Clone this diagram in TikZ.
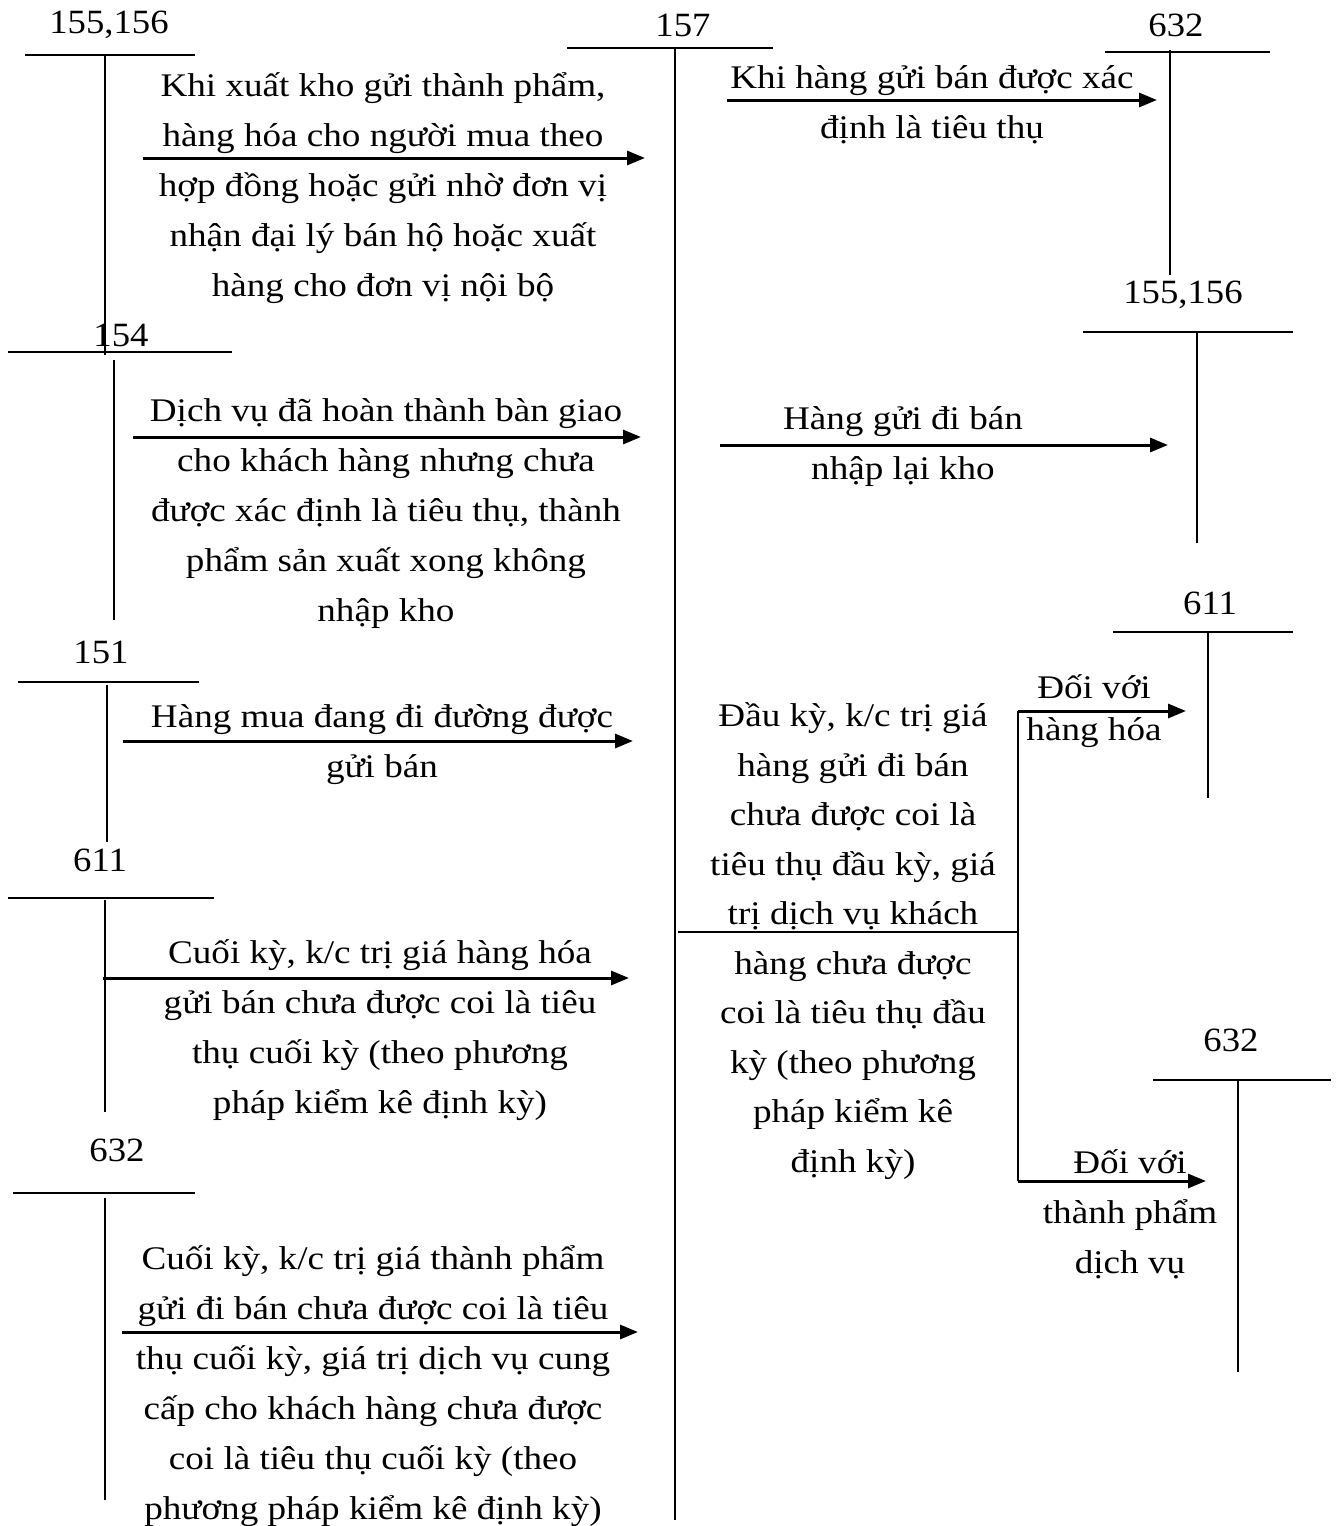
\documentclass[tikz,border=0pt]{standalone}
\usepackage{fontspec}
\setmainfont{Liberation Serif}[FakeStretch=1.125]
\newfontfamily\lblfont{Liberation Serif}[FakeStretch=1.08]
\usetikzlibrary{arrows.meta}
\begin{document}
\begin{tikzpicture}[x=1pt,y=-1pt,
  acct/.style={font=\lblfont\fontsize{34}{40}\selectfont, inner sep=0pt},
  txt/.style={font=\fontsize{33}{50}\selectfont, align=center, inner sep=0pt},
  txtm/.style={font=\fontsize{33}{49.5}\selectfont, align=center, inner sep=0pt},
  txtb/.style={font=\fontsize{33}{42}\selectfont, align=center, inner sep=0pt},
  tline/.style={line width=2pt},
  flow/.style={line width=3pt, -{Triangle[length=18pt,width=14pt]}},
]
\useasboundingbox (0,0) rectangle (1337,1526);
% ---- T accounts ----
% 155,156 top left
\node[acct] (tA) at (109,25) {155,156};
\draw[tline] (25,55) -- (195,55);
\draw[tline] (105,55) -- (105,355);
% 157
\node[acct] (tM) at (683,25) {157};
\draw[tline] (567,48) -- (773,48);
\draw[tline] (675,48) coordinate (mTop) -- (675,1520) coordinate (mBot);
% 632 top right
\node[acct] (tB) at (1176,25) {632};
\draw[tline] (1105,52) -- (1270,52);
\draw[tline] (1170,50) -- (1170,275);
% 155,156 right
\node[acct] (tC) at (1183,295) {155,156};
\draw[tline] (1083,332) -- (1293,332);
\draw[tline] (1197,332) -- (1197,543);
% 154
\node[acct] (tD) at (121,335) {154};
\draw[tline] (8,352) -- (232,352);
\draw[tline] (114,360) -- (114,620);
% 611 right
\node[acct] (tE) at (1210,603) {611};
\draw[tline] (1113,632) -- (1293,632);
\draw[tline] (1208,632) -- (1208,798);
% 151
\node[acct] (tF) at (101,652) {151};
\draw[tline] (18,682) -- (199,682);
\draw[tline] (107,685) -- (107,842);
% 611 left
\node[acct] (tG) at (100,860) {611};
\draw[tline] (8,898) -- (214,898);
\draw[tline] (105,900) -- (105,1112);
% 632 lower right
\node[acct] (tH) at (1231,1040) {632};
\draw[tline] (1153,1080) -- (1331,1080);
\draw[tline] (1238,1080) -- (1238,1372);
% 632 left
\node[acct] (tI) at (117,1150) {632};
\draw[tline] (13,1193) -- (195,1193);
\draw[tline] (105,1198) -- (105,1500);

% ---- coordinates for flows ----
\coordinate (a1s) at (143,158);  \coordinate (a1e) at (645,158);
\coordinate (a2s) at (727,100);  \coordinate (a2e) at (1157,100);
\coordinate (a3s) at (133,437);  \coordinate (a3e) at (641,437);
\coordinate (a4s) at (720,445);  \coordinate (a4e) at (1168,445);
\coordinate (a5s) at (123,741);  \coordinate (a5e) at (633,741);
\coordinate (a6s) at (103,978);  \coordinate (a6e) at (629,978);
\coordinate (a7s) at (122,1332); \coordinate (a7e) at (638,1332);
\coordinate (m1) at (678,932);   \coordinate (m2) at (1018,932);
\coordinate (mu) at (1018,711);  \coordinate (mue) at (1186,711);
\coordinate (md) at (1018,1181); \coordinate (mde) at (1206,1181);

\draw[flow] (a1s) -- (a1e);
\draw[flow] (a2s) -- (a2e);
\draw[flow] (a3s) -- (a3e);
\draw[flow] (a4s) -- (a4e);
\draw[flow] (a5s) -- (a5e);
\draw[flow] (a6s) -- (a6e);
\draw[flow] (a7s) -- (a7e);
\draw[tline] (m1) -- (m2);
\draw[tline] (mu) -- (md);
\draw[flow] (mu) -- (mue);
\draw[flow] (md) -- (mde);

% ---- texts ----
\node[txt] (x1) at (383,188) {Khi xuất kho gửi thành phẩm,\\hàng hóa cho người mua theo\\hợp đồng hoặc gửi nhờ đơn vị\\nhận đại lý bán hộ hoặc xuất\\hàng cho đơn vị nội bộ};
\node[txt] (x2) at (932,105) {Khi hàng gửi bán được xác\\định là tiêu thụ};
\node[txt] (x3) at (386,514) {Dịch vụ đã hoàn thành bàn giao\\cho khách hàng nhưng chưa\\được xác định là tiêu thụ, thành\\phẩm sản xuất xong không\\nhập kho};
\node[txt] (x4) at (903,447) {Hàng gửi đi bán\\nhập lại kho};
\node[txt] (x5) at (382,745) {Hàng mua đang đi đường được\\gửi bán};
\node[txt] (x6) at (380,1030) {Cuối kỳ, k/c trị giá hàng hóa\\gửi bán chưa được coi là tiêu\\thụ cuối kỳ (theo phương\\pháp kiểm kê định kỳ)};
\node[txt] (x7) at (373,1386) {Cuối kỳ, k/c trị giá thành phẩm\\gửi đi bán chưa được coi là tiêu\\thụ cuối kỳ, giá trị dịch vụ cung\\cấp cho khách hàng chưa được\\coi là tiêu thụ cuối kỳ (theo\\phương pháp kiểm kê định kỳ)};
\node[txtm] (x8) at (853,941) {Đầu kỳ, k/c trị giá\\hàng gửi đi bán\\chưa được coi là\\tiêu thụ đầu kỳ, giá\\trị dịch vụ khách\\hàng chưa được\\coi là tiêu thụ đầu\\kỳ (theo phương\\pháp kiểm kê\\định kỳ)};
\node[txtb] (x9) at (1094,711) {Đối với\\hàng hóa};
\node[txt] (x10) at (1130,1214) {Đối với\\thành phẩm\\dịch vụ};
\end{tikzpicture}
\end{document}
